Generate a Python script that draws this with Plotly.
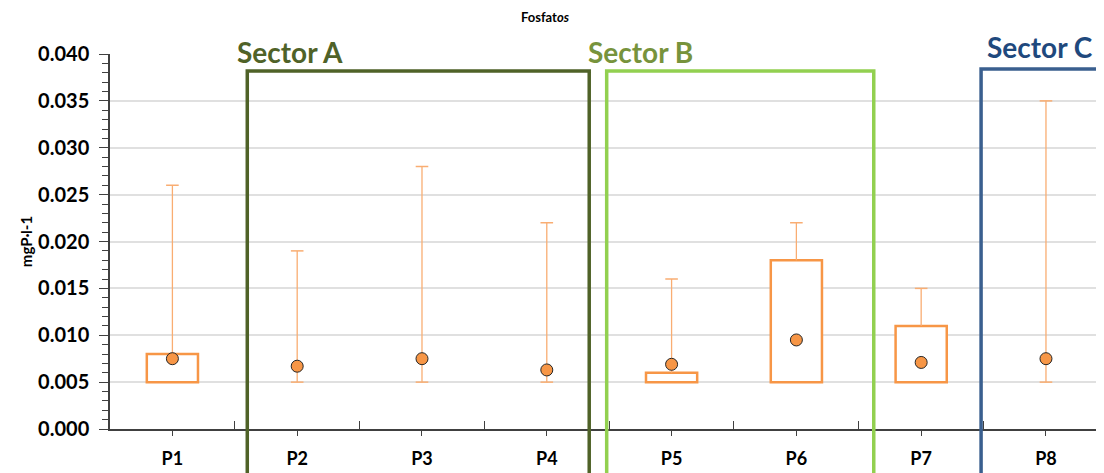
import plotly.graph_objects as go

# --- data ---
points = ['P1', 'P2', 'P3', 'P4', 'P5', 'P6', 'P7', 'P8']
whisker_min = [0.005, 0.005, 0.005, 0.005, 0.005, 0.005, 0.005, 0.005]
box_q1 = [0.005, 0.005, 0.005, 0.005, 0.005, 0.005, 0.005, 0.005]
box_q3 = [0.008, 0.005, 0.005, 0.005, 0.006, 0.018, 0.011, 0.005]
whisker_max = [0.026, 0.019, 0.028, 0.022, 0.016, 0.022, 0.015, 0.035]
means = [0.0075, 0.0067, 0.0075, 0.0063, 0.0069, 0.0095, 0.0071, 0.0075]

y_ticks = [0.000, 0.005, 0.010, 0.015, 0.020, 0.025, 0.030, 0.035, 0.040]

BOX_ORANGE = '#F79646'
WHISKER_ORANGE = '#F9AD72'
FONT = 'Lato'

xs = list(range(len(points)))

fig = go.Figure()

# boxes (q1 -> q3), only where there is a box
box_x = [x for x, a, b in zip(xs, box_q1, box_q3) if b > a]
box_base = [a for a, b in zip(box_q1, box_q3) if b > a]
box_h = [b - a for a, b in zip(box_q1, box_q3) if b > a]
fig.add_trace(go.Bar(
    x=box_x, y=box_h, base=box_base, width=0.41,
    marker=dict(color='white', line=dict(color=BOX_ORANGE, width=2.5)),
    hoverinfo='skip'
))

# whisker lines
wx, wy = [], []
for x, lo, q1, q3, hi in zip(xs, whisker_min, box_q1, box_q3, whisker_max):
    wx += [x, x, None]
    wy += [q3, hi, None]
    if q1 > lo:
        wx += [x, x, None]
        wy += [lo, q1, None]
fig.add_trace(go.Scatter(
    x=wx, y=wy, mode='lines',
    line=dict(color=WHISKER_ORANGE, width=1.3),
    hoverinfo='skip'
))

# whisker caps (bottom cap only visible where there is no box)
cap_x, cap_y = [], []
for x, lo, q1, q3, hi in zip(xs, whisker_min, box_q1, box_q3, whisker_max):
    cap_x.append(x)
    cap_y.append(hi)
    if q3 <= q1:
        cap_x.append(x)
        cap_y.append(lo)
fig.add_trace(go.Scatter(
    x=cap_x, y=cap_y, mode='markers',
    marker=dict(symbol='line-ew', size=9, line=dict(color=WHISKER_ORANGE, width=1.5)),
    hoverinfo='skip'
))

# means
fig.add_trace(go.Scatter(
    x=xs, y=means, mode='markers',
    marker=dict(size=12, color=BOX_ORANGE, line=dict(color='#262626', width=1)),
    hovertemplate='%{y:.4f}<extra></extra>'
))

# sector frames: (label, x0, x1, frame top, frame colour, text colour, label x, label y)
sectors = [
    ('Sector A', 0.60, 3.34, 0.955, '#4F6228', '#4F6228', 0.946, 1.005),
    ('Sector B', 3.48, 5.62, 0.955, '#92D050', '#77933C', 3.75, 1.005),
    ('Sector C', 6.48, 8.5, 0.960, '#3A5F8F', '#1F497D', 6.95, 1.019),
]
for name, x0, x1, top, line_col, text_col, lx, ly in sectors:
    fig.add_shape(
        type='rect', xref='x', yref='paper',
        x0=x0, x1=x1, y0=-0.3, y1=top,
        line=dict(color=line_col, width=3.5),
        fillcolor='rgba(0,0,0,0)', layer='above'
    )
    fig.add_annotation(x=lx, y=ly, xref='x', yref='paper', yanchor='middle',
                       text='<b>%s</b>' % name, showarrow=False,
                       font=dict(family=FONT, size=28, color=text_col))

fig.update_layout(
    width=1096, height=465,
    margin=dict(l=102, r=0, t=46, b=44),
    plot_bgcolor='white', paper_bgcolor='white',
    showlegend=False,
    title=dict(text='<b>Fosfat<i>os</i></b>', x=0.49, xanchor='center',
               y=0.98, yanchor='middle',
               font=dict(family=FONT, size=13, color='black')),
    xaxis=dict(
        range=[-0.5, 7.465],
        tickvals=xs, ticktext=points,
        ticks='outside', ticklen=5, tickcolor='#404040',
        minor=dict(tickvals=[x + 0.5 for x in xs[:-1]], ticks='inside', ticklen=8,
                   tickcolor='#404040', showgrid=False),
        tickfont=dict(family=FONT, size=18, color='black', weight='bold'),
        ticklabelstandoff=8,
        showline=True, linecolor='#404040', linewidth=1.5,
        showgrid=False, zeroline=False
    ),
    yaxis=dict(
        range=[0, 0.040],
        tickvals=y_ticks, tickformat='.3f',
        ticks='outside', ticklen=9, tickcolor='#404040',
        minor=dict(dtick=0.001, ticks='outside', ticklen=6, tickcolor='#404040',
                   showgrid=False),
        tickfont=dict(family=FONT, size=20, color='black', weight='bold'),
        ticklabelstandoff=6,
        showline=True, linecolor='#404040', linewidth=1.5,
        showgrid=True, gridcolor='#E0E0E0', gridwidth=1.5,
        zeroline=False,
        title=dict(text='<b>mgP·l-1</b>', standoff=2,
                   font=dict(family=FONT, size=15, color='black'))
    ),
)

fig.write_html('out.html')
